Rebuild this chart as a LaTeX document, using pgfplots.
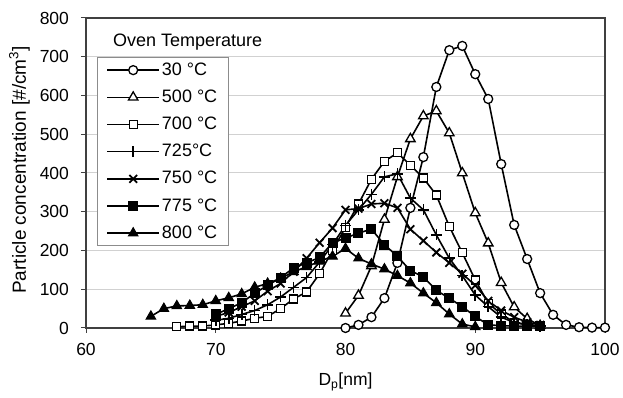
\documentclass[border=0pt]{standalone}
\usepackage{fontspec}
\setmainfont{Liberation Sans}
\usepackage{pgfplots}
\pgfplotsset{compat=1.18}
\begin{document}
\fontsize{17.5bp}{21bp}\selectfont
\begin{tikzpicture}
\begin{axis}[
  scale only axis,
  width=519bp, height=310bp,
  xmin=60, xmax=100, ymin=0, ymax=800,
  xtick={60,70,80,90,100},
  ytick={0,100,200,300,400,500,600,700,800},
  /pgf/number format/assume math mode=true,
  tick align=outside, tick pos=left,
  major tick length=5bp,
  tick style={black!75, line width=1bp},
  ymajorgrids,
  grid style={black!18, line width=1bp},
  axis line style={black!75, line width=1.8bp},
  xticklabel style={yshift=-4bp},
  yticklabel style={xshift=-6bp},
  xlabel={D\textsubscript{p}[nm]},
  ylabel={Particle concentration [\#/cm\textsuperscript{3}]},
  xlabel style={at={(axis description cs:0.5,-0.174)}, anchor=center},
  ylabel style={at={(axis description cs:-0.128,0.51)}, anchor=center, rotate=0, font=\fontsize{19bp}{23bp}\selectfont},
  legend cell align=left,
  legend style={at={(axis description cs:0.021,0.874)}, anchor=north west,
    draw=black!45, line width=1bp, inner xsep=9bp, inner ysep=3bp,
    row sep=8bp, font=\fontsize{18bp}{21bp}\selectfont},
  legend image code/.code={%
    \draw[mark repeat=2,mark phase=2,#1] plot coordinates {(0bp,0bp) (26bp,0bp) (52bp,0bp)};},
  every axis plot/.append style={black, line width=1.6bp},
]
\addplot[mark=*, mark size=4.5bp, mark options={fill=white, line width=1.3bp}] coordinates {
(80,0) (81,8) (82,28) (83,77) (84,168) (85,310) (86,441) (87,622) (88,717) (89,728)
(90,655) (91,591) (92,423) (93,266) (94,178) (95,90) (96,34) (97,8) (98,2) (99,1) (100,1)};
\addlegendentry{30 °C}
\addplot[mark=triangle*, mark size=5.5bp, mark options={fill=white, line width=1.3bp}] coordinates {
(80,38) (81,84) (82,160) (83,280) (84,390) (85,488) (86,547) (87,560) (88,503) (89,400)
(90,297) (91,219) (92,117) (93,54) (94,24) (95,6)};
\addlegendentry{500 °C}
\addplot[mark=square*, mark size=4bp, mark options={fill=white, line width=1.3bp}] coordinates {
(67,3) (68,5) (69,5) (70,8) (71,12) (72,18) (73,25) (74,30) (75,50) (76,75) (77,93)
(78,140) (79,200) (80,260) (81,320) (82,384) (83,430) (84,452) (85,420) (86,387) (87,343)
(88,262) (89,194) (90,124) (91,64) (92,36) (93,15) (94,9) (95,5)};
\addlegendentry{700 °C}
\addplot[mark=+, mark size=5.5bp, mark options={line width=1.6bp}] coordinates {
(70,20) (71,25) (72,35) (73,45) (74,60) (75,80) (76,105) (77,130) (78,170) (79,215)
(80,265) (81,305) (82,345) (83,390) (84,398) (85,335) (86,305) (87,240) (88,180) (89,135)
(90,85) (91,55) (92,28) (93,14) (94,8) (95,5)};
\addlegendentry{725°C}
\addplot[mark=x, mark size=5.5bp, mark options={line width=1.8bp}] coordinates {
(70,30) (71,40) (72,55) (73,70) (74,95) (75,115) (76,145) (77,180) (78,220) (79,258)
(80,305) (81,308) (82,320) (83,322) (84,310) (85,255) (86,225) (87,195) (88,168) (89,140)
(90,110) (91,70) (92,45) (93,28) (94,15) (95,8)};
\addlegendentry{750 °C}
\addplot[mark=square*, mark size=4.5bp, mark options={fill=black, line width=1bp}] coordinates {
(70,35) (71,50) (72,65) (73,90) (74,110) (75,130) (76,155) (77,168) (78,182) (79,220)
(80,232) (81,245) (82,255) (83,215) (84,185) (85,148) (86,132) (87,97) (88,77) (89,55)
(90,30) (91,8) (92,6) (93,5) (94,5) (95,5)};
\addlegendentry{775 °C}
\addplot[mark=triangle*, mark size=5.5bp, mark options={fill=black, line width=1bp}] coordinates {
(65,30) (66,50) (67,57) (68,58) (69,60) (70,70) (71,78) (72,88) (73,105) (74,115)
(75,128) (76,145) (77,158) (78,172) (79,185) (80,205) (81,180) (82,165) (83,152) (84,135)
(85,116) (86,90) (87,65) (88,36) (89,10) (90,3)};
\addlegendentry{800 °C}
\node[anchor=west, inner sep=0pt, font=\fontsize{18bp}{21bp}\selectfont] at (axis description cs:0.052,0.923) {Oven Temperature};
\end{axis}
\pgfresetboundingbox
\useasboundingbox ([shift={(-86bp,-70bp)}]current axis.south west) rectangle ([shift={(18bp,18bp)}]current axis.north east);
\end{tikzpicture}
\end{document}
